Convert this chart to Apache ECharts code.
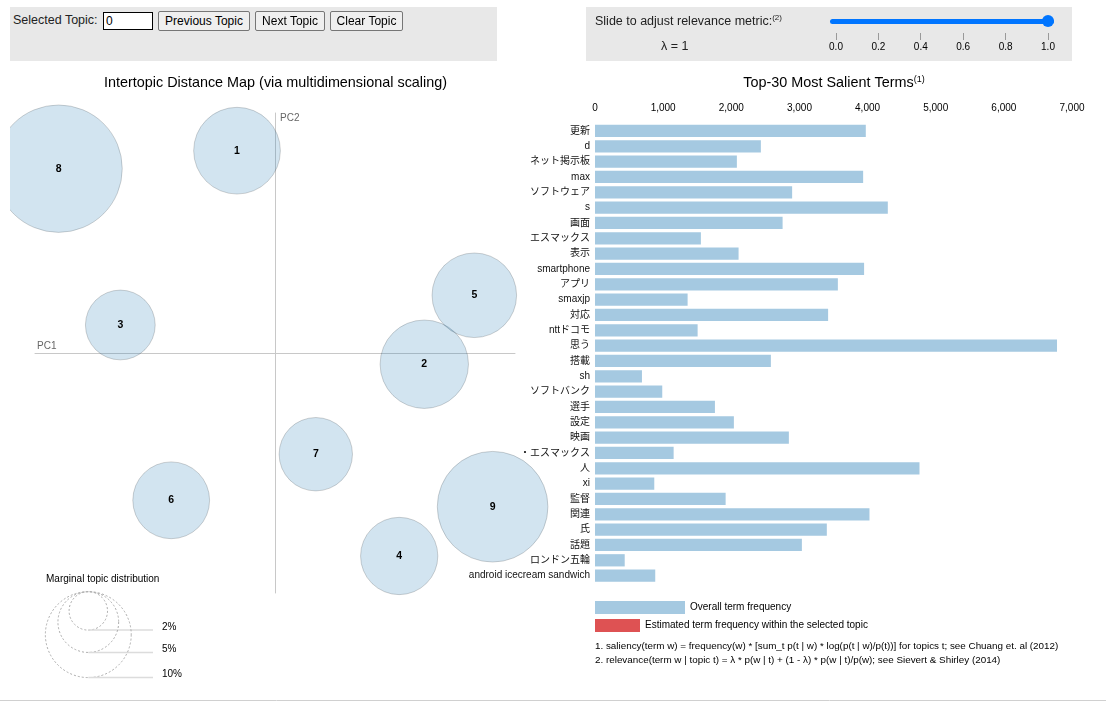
<!DOCTYPE html>
<html><head><meta charset="utf-8">
<script src="https://cdn.jsdelivr.net/npm/echarts@6/dist/echarts.min.js"></script>
<style>
body{margin:0;background:#fff;font-family:Arial,"Liberation Sans","Noto Sans CJK JP",sans-serif;}
#chart{position:absolute;left:0;top:0;width:1106px;height:701px;}
.ctl{position:absolute;z-index:5;}
.box{position:absolute;background:#e8e8e8;z-index:4;}
.btn{position:absolute;z-index:5;top:11px;height:20px;box-sizing:border-box;font:12px Arial,"Liberation Sans",sans-serif;color:#000;background:#efefef;border:1px solid #767676;border-radius:2px;padding:0;text-align:center;}
.tick{position:absolute;z-index:5;top:33px;width:1px;height:7px;background:#999;}
.tlab{position:absolute;z-index:5;top:41px;font:10px Arial,"Liberation Sans",sans-serif;color:#000;width:30px;margin-left:-15px;text-align:center;}
</style></head><body>
<div id="chart"></div>
<div class="box" style="left:10px;top:7px;width:487px;height:54px"></div>
<div class="box" style="left:586px;top:7px;width:486px;height:54px"></div>
<div class="ctl" style="left:13px;top:13px;font-size:12.5px;color:#222">Selected Topic:</div>
<input class="ctl" type="text" value="0" style="left:103px;top:12px;width:50px;height:18px;box-sizing:border-box;border:1px solid #000;padding:0 2px;font:12px Arial,sans-serif;">
<button class="btn" style="left:158px;width:92px">Previous Topic</button>
<button class="btn" style="left:255px;width:70px">Next Topic</button>
<button class="btn" style="left:330px;width:73px">Clear Topic</button>
<div class="ctl" style="left:595px;top:14px;font-size:12.5px;color:#222">Slide to adjust relevance metric:<span style="font-size:8px;vertical-align:top;position:relative;top:-1px">(2)</span></div>
<div class="ctl" style="left:661px;top:39px;font-size:12.5px;color:#222">λ = 1</div>
<div class="ctl" style="left:830px;top:19px;width:224px;height:5px;border-radius:3px;background:#0075ff"></div>
<div class="ctl" style="left:1042px;top:15px;width:12px;height:12px;border-radius:6px;background:#0075ff"></div>
<div id="sliderAxis"></div>
<script>
// ---------- data ----------
const topicIds   = [1, 2, 3, 4, 5, 6, 7, 8, 9];
const topicPC1   = [-0.0633, 0.2488, -0.2578, 0.2070, 0.3322, -0.1730, 0.0680, -0.3607, 0.3627];
const topicPC2   = [0.3372, -0.0187, 0.0467, -0.3383, 0.0962, -0.2455, -0.1687, 0.3072, -0.2562];
const topicFreqPct = [10.2, 10.6, 6.6, 8.1, 9.7, 8.0, 7.3, 22.0, 16.6];
const sizeLegendPct = [2, 5, 10];

const terms = ['更新','d','ネット掲示板','max','ソフトウェア','s','画面','エスマックス','表示','smartphone',
  'アプリ','smaxjp','対応','nttドコモ','思う','搭載','sh','ソフトバンク','選手','設定',
  '映画','・エスマックス','人','xi','監督','関連','氏','話題','ロンドン五輪','android icecream sandwich'];
const termTotals = [3974, 2434, 2082, 3935, 2893, 4297, 2753, 1554, 2107, 3949,
  3564, 1359, 3421, 1506, 6780, 2581, 689, 987, 1760, 2038,
  2845, 1154, 4762, 870, 1917, 4028, 3402, 3036, 436, 884];
const barTicks = [0, 1000, 2000, 3000, 4000, 5000, 6000, 7000];
const lambdaTicks = [0.0, 0.2, 0.4, 0.6, 0.8, 1.0];

// ---------- slider axis (HTML) ----------
(function(){
  const ax = document.getElementById('sliderAxis');
  const x0 = 836, x1 = 1048;
  lambdaTicks.forEach(v => {
    const x = x0 + (x1 - x0) * v;
    const t = document.createElement('div'); t.className='tick'; t.style.left = (x-0.5)+'px'; ax.appendChild(t);
    const l = document.createElement('div'); l.className='tlab'; l.style.left = x+'px'; l.textContent = v.toFixed(1); ax.appendChild(l);
  });
})();

// ---------- chart ----------
const RADIUS_PER_SQRT_PCT = 13.58;
const rOf = p => RADIUS_PER_SQRT_PCT * Math.sqrt(p);
const FONT = 'Arial, "Liberation Sans", "Noto Sans CJK JP", sans-serif';

const chart = echarts.init(document.getElementById('chart'), null, {renderer:'canvas'});

const scatterData = topicIds.map((id,i) => [topicPC1[i], topicPC2[i], topicFreqPct[i], id]);

// marginal legend graphics
const legCx = 88.3, legTop = 591.7;
const legendGraphics = [];
sizeLegendPct.forEach(p => {
  const r = rOf(p);
  legendGraphics.push({type:'circle', shape:{cx:legCx, cy:legTop + r, r:r},
    style:{fill:'none', stroke:'#aaaaaa', lineWidth:1, lineDash:[2,2]}, silent:true});
  legendGraphics.push({type:'line', shape:{x1:legCx, y1:legTop + 2*r, x2:153, y2:legTop + 2*r},
    style:{stroke:'#dcdcdc', lineWidth:1.5}, silent:true});
  legendGraphics.push({type:'text', x:162, y:legTop + 2*r - 3,
    style:{text:p + '%', font:'10px ' + FONT, fill:'#000', verticalAlign:'middle'}});
});

const option = {
  animation:false,
  grid:[
    {left:35, top:113, width:480, height:480},
    {left:595, top:123.3, width:477, height:460}
  ],
  xAxis:[
    {gridIndex:0, type:'value', min:-0.4, max:0.4,
     axisLine:{show:true, onZero:true, lineStyle:{color:'#c8c8c8', width:1}},
     axisTick:{show:false}, axisLabel:{show:false}, splitLine:{show:false}},
    {gridIndex:1, type:'value', position:'top', min:0, max:7000, interval:1000,
     axisLine:{show:false}, axisTick:{show:false}, splitLine:{show:false},
     axisLabel:{fontSize:10, fontFamily:FONT, color:'#000', margin:10,
       formatter: v => barTicks.indexOf(v) >= 0 ? v.toLocaleString('en-US') : ''}}
  ],
  yAxis:[
    {gridIndex:0, type:'value', min:-0.4, max:0.4,
     axisLine:{show:true, onZero:true, lineStyle:{color:'#c8c8c8', width:1}},
     axisTick:{show:false}, axisLabel:{show:false}, splitLine:{show:false}},
    {gridIndex:1, type:'category', data:terms, inverse:true,
     axisLine:{show:false}, axisTick:{show:false}, splitLine:{show:false},
     axisLabel:{fontSize:10, fontFamily:FONT, color:'#111', margin:5, interval:0}}
  ],
  series:[
    {type:'scatter', xAxisIndex:0, yAxisIndex:0, data:scatterData, clip:false,
     symbol:'circle', symbolSize: d => 2 * rOf(d[2]),
     itemStyle:{color:'rgba(31,119,180,0.2)', borderColor:'rgba(0,0,0,0.17)', borderWidth:1, opacity:1},
     label:{show:true, position:'inside', formatter: p => String(p.value[3]),
       fontSize:10.5, fontWeight:'bold', fontFamily:FONT, color:'#000'},
     emphasis:{disabled:true}, silent:true, z:2},
    {type:'bar', xAxisIndex:1, yAxisIndex:1, data:termTotals, barCategoryGap:'20%',
     itemStyle:{color:'#a5c9e1'}, emphasis:{disabled:true}, silent:true, z:3}
  ],
  graphic:[
    {type:'rect', shape:{x:0, y:95, width:10, height:150}, style:{fill:'#fff'}, z:100, silent:true},
    {type:'text', x:275.5, y:83, z:10,
     style:{text:'Intertopic Distance Map (via multidimensional scaling)', font:'14.4px ' + FONT, fill:'#000', align:'center', verticalAlign:'middle'}},
    {type:'text', x:834, y:83, z:10,
     style:{text:'{a|Top-30 Most Salient Terms}{s|(1)}', align:'center', verticalAlign:'middle',
       rich:{a:{font:'14.4px ' + FONT, fill:'#000'}, s:{font:'9px ' + FONT, fill:'#000', verticalAlign:'top', padding:[0,0,6,0]}}}},
    {type:'text', x:37, y:346, z:10, style:{text:'PC1', font:'10px ' + FONT, fill:'#666', verticalAlign:'middle'}},
    {type:'text', x:280, y:118, z:10, style:{text:'PC2', font:'10px ' + FONT, fill:'#666', verticalAlign:'middle'}},
    {type:'text', x:46, y:579, z:10, style:{text:'Marginal topic distribution', font:'10px ' + FONT, fill:'#000', verticalAlign:'middle'}},
    ...legendGraphics,
    {type:'rect', shape:{x:595, y:601, width:90, height:13}, style:{fill:'#a5c9e1'}, silent:true},
    {type:'text', x:690, y:607, style:{text:'Overall term frequency', font:'10px ' + FONT, fill:'#000', verticalAlign:'middle'}},
    {type:'rect', shape:{x:595, y:619, width:45, height:13}, style:{fill:'#de5253'}, silent:true},
    {type:'text', x:645, y:625, style:{text:'Estimated term frequency within the selected topic', font:'10px ' + FONT, fill:'#000', verticalAlign:'middle'}},
    {type:'text', x:595, y:646, style:{text:'1. saliency(term w) = frequency(w) * [sum_t p(t | w) * log(p(t | w)/p(t))] for topics t; see Chuang et. al (2012)', font:'9.85px ' + FONT, fill:'#000', verticalAlign:'middle'}},
    {type:'text', x:595, y:660, style:{text:'2. relevance(term w | topic t) = λ * p(w | t) + (1 - λ) * p(w | t)/p(w); see Sievert & Shirley (2014)', font:'9.85px ' + FONT, fill:'#000', verticalAlign:'middle'}},
    {type:'line', shape:{x1:0, y1:700.5, x2:1106, y2:700.5}, style:{stroke:'#d0d0d0', lineWidth:1}, silent:true}
  ]
};
chart.setOption(option);
</script>
</body></html>
